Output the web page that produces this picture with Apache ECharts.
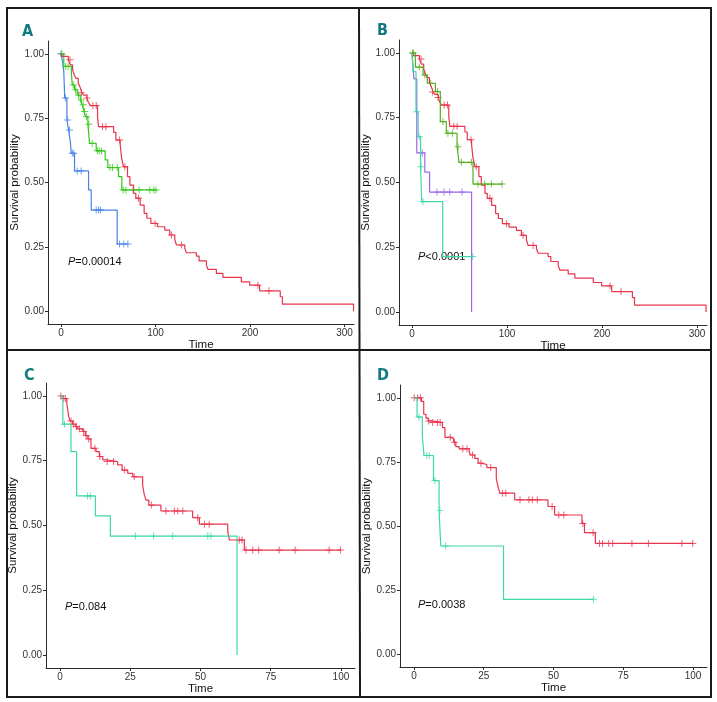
<!DOCTYPE html>
<html>
<head>
<meta charset="utf-8">
<script src="https://cdn.jsdelivr.net/npm/echarts@6/dist/echarts.min.js"></script>
<style>html,body{margin:0;padding:0;background:#fff}#c{width:717px;height:702px}</style>
</head>
<body>
<div id="c"></div>
<script>
// ---------- DATA ----------
const yTicks = [0, 0.25, 0.5, 0.75, 1];
const xTicksAB = [0, 100, 200, 300];
const xTicksCD = [0, 25, 50, 75, 100];
const panelLetters = ['A', 'B', 'C', 'D'];
const pTexts = ['0.00014', '<0.0001', '0.084', '0.0038'];

// Panel A & B: red stratum (same cohort)
const redABT = [0, 1.5, 7.8, 9.9, 12.3, 14.1, 15.8, 18.3, 20.4, 22.2, 24, 27.5, 29, 31.1, 38.7, 39.8, 55.7, 58.1, 62.7, 64.1, 66.2, 70.4, 72.9, 76.8, 79.2, 83.8, 88, 90.9, 95.1, 102.1, 109.9, 115.1, 120.4, 122.2, 131, 132.8, 143.3, 146.1, 153.9, 155.6, 164.4, 171.4, 190.8, 199.6, 210.2, 232, 234.2, 309.5];
const redABS = [1, 0.99, 0.977, 0.957, 0.938, 0.918, 0.905, 0.886, 0.869, 0.849, 0.840, 0.828, 0.812, 0.799, 0.756, 0.717, 0.695, 0.665, 0.646, 0.597, 0.561, 0.523, 0.490, 0.458, 0.439, 0.412, 0.380, 0.361, 0.341, 0.328, 0.315, 0.296, 0.279, 0.257, 0.244, 0.227, 0.214, 0.195, 0.179, 0.162, 0.147, 0.131, 0.114, 0.101, 0.079, 0.056, 0.027, 0];
const redABCensT = [9.5, 21.5, 27.5, 33.8, 37.3, 44, 47.5, 62, 67.6, 82, 99.6, 116.9, 127.5, 208.4, 220];
const redABCensS = [0.977, 0.849, 0.828, 0.799, 0.799, 0.717, 0.717, 0.665, 0.561, 0.439, 0.341, 0.296, 0.257, 0.101, 0.079];

// Panel A: blue
const blueAT = [0, 2, 3, 4, 6.3, 8.1, 9.9, 10.9, 14.4, 29.2, 32, 59.5, 71];
const blueAS = [1, 0.964, 0.931, 0.828, 0.743, 0.704, 0.659, 0.614, 0.545, 0.471, 0.393, 0.261, 0.261];
const blueACensT = [0, 4.8, 7, 9, 12, 13.5, 17.2, 21.4, 37.3, 39.8, 41.9, 62, 66.5, 70.8];
const blueACensS = [1, 0.828, 0.743, 0.704, 0.614, 0.614, 0.545, 0.545, 0.393, 0.393, 0.393, 0.261, 0.261, 0.261];

// Panel A: green
const greenAT = [0, 3, 11, 12, 14.4, 17.2, 20.4, 22.5, 24.3, 26.1, 28.5, 30.3, 37.3, 46.8, 49.6, 60.9, 64.4, 100.5];
const greenAS = [1, 0.951, 0.927, 0.879, 0.860, 0.840, 0.821, 0.802, 0.776, 0.756, 0.726, 0.652, 0.623, 0.588, 0.558, 0.523, 0.471, 0.471];
const greenACensT = [1, 5, 7.5, 13, 15.5, 18.5, 21.5, 23.5, 25, 27, 29.5, 33, 38.5, 40.5, 43, 51.8, 54.6, 59.5, 65.8, 68.7, 76.4, 82.7, 94, 98.2, 100.5];
const greenACensS = [1, 0.951, 0.951, 0.879, 0.860, 0.840, 0.821, 0.802, 0.776, 0.756, 0.726, 0.652, 0.623, 0.623, 0.623, 0.558, 0.558, 0.558, 0.471, 0.471, 0.471, 0.471, 0.471, 0.471, 0.471];

// Panel B: green
const greenBT = [0, 3.5, 11.6, 16.1, 24.6, 29.8, 36.1, 47.4, 49.5, 64.2, 95];
const greenBS = [1, 0.945, 0.915, 0.883, 0.851, 0.735, 0.690, 0.638, 0.578, 0.494, 0.494];
const greenBCensT = [0.5, 1.5, 7.6, 13.5, 19.6, 26.7, 32.6, 37.8, 42.5, 48.4, 51.9, 62.5, 69.5, 76.5, 83.5, 94.7];
const greenBCensS = [1, 1, 0.945, 0.915, 0.883, 0.851, 0.735, 0.690, 0.690, 0.638, 0.578, 0.578, 0.494, 0.494, 0.494, 0.494];

// Panel B: purple
const purpleBT = [0, 2, 5, 13.5, 18.5, 62.7];
const purpleBS = [1, 0.9, 0.614, 0.54, 0.463, 0];
const purpleBCensT = [10.9, 26.3, 33.7, 39.7, 52.6];
const purpleBCensS = [0.614, 0.463, 0.463, 0.463, 0.463];

// Panel B: cyan
const cyanBT = [0, 1, 4.2, 6.5, 9, 10.2, 32.3, 64];
const cyanBS = [1, 0.928, 0.773, 0.677, 0.561, 0.426, 0.214, 0.214];
const cyanBCensT = [5, 7.5, 9.5, 11.5, 64];
const cyanBCensS = [0.773, 0.677, 0.561, 0.426, 0.214];

// Panel C: red
const redCT = [0, 1, 2.4, 3.1, 3.6, 4.5, 5.5, 6.3, 8.1, 9, 9.9, 11, 12.8, 14, 15.2, 16.4, 20.5, 22.1, 24.1, 25.9, 29.4, 30, 30.6, 31.6, 35.9, 47.2, 49.6, 59.7, 60.3, 65.6, 100];
const redCS = [1, 0.99, 0.972, 0.920, 0.903, 0.891, 0.882, 0.873, 0.863, 0.847, 0.834, 0.798, 0.785, 0.766, 0.753, 0.747, 0.734, 0.714, 0.701, 0.688, 0.656, 0.618, 0.598, 0.579, 0.556, 0.530, 0.505, 0.476, 0.444, 0.405, 0.405];
const redCCensT = [0.3, 1.3, 1.9, 3.9, 4.7, 5.8, 6.9, 8.4, 9.3, 10.2, 12.4, 14.2, 16.8, 19, 23, 26.4, 32.5, 37.7, 40.7, 41.9, 43.7, 49, 51.4, 53.1, 63.8, 64.8, 66.2, 68.6, 70.7, 78, 83.7, 95.8, 99.8];
const redCCensS = [1, 0.99, 0.99, 0.903, 0.891, 0.882, 0.873, 0.863, 0.847, 0.834, 0.798, 0.766, 0.747, 0.747, 0.714, 0.688, 0.579, 0.556, 0.556, 0.556, 0.556, 0.530, 0.505, 0.505, 0.444, 0.444, 0.405, 0.405, 0.405, 0.405, 0.405, 0.405, 0.405];

// Panel C: cyan
const cyanCT = [0, 1, 3.9, 5.9, 12.6, 17.9, 63];
const cyanCS = [1, 0.891, 0.785, 0.614, 0.537, 0.459, 0];
const cyanCCensT = [1.6, 9.8, 10.8, 26.8, 33.3, 40.1, 52.6, 53.7];
const cyanCCensS = [0.891, 0.614, 0.614, 0.459, 0.459, 0.459, 0.459, 0.459];

// Panel D: red
const redDT = [0, 2.7, 3.5, 4.3, 5.1, 6.1, 10.2, 11.1, 13.2, 14.2, 15, 16.2, 19.8, 20.4, 21.8, 23, 24.2, 26.1, 29.5, 30.1, 30.8, 36.1, 48, 50.4, 60.2, 61.1, 65, 100];
const redDS = [1, 0.986, 0.936, 0.921, 0.910, 0.904, 0.884, 0.846, 0.840, 0.827, 0.810, 0.801, 0.786, 0.777, 0.764, 0.745, 0.740, 0.728, 0.686, 0.654, 0.628, 0.602, 0.576, 0.543, 0.510, 0.474, 0.432, 0.432];
const redDCensT = [0.1, 1.3, 2.3, 5.3, 6.7, 8.5, 9.4, 13, 14.5, 17.5, 19, 21, 24, 27.5, 31.7, 32.9, 38, 41.2, 42.4, 44.2, 49.5, 51.9, 53.7, 60.5, 64.2, 66.5, 67.6, 69.8, 71.2, 78.1, 84, 96, 99.9];
const redDCensS = [1, 1, 1, 0.910, 0.904, 0.904, 0.904, 0.846, 0.827, 0.801, 0.801, 0.777, 0.745, 0.728, 0.628, 0.628, 0.602, 0.602, 0.602, 0.602, 0.576, 0.543, 0.543, 0.510, 0.474, 0.432, 0.432, 0.432, 0.432, 0.432, 0.432, 0.432, 0.432];

// Panel D: cyan
const cyanDT = [0, 1.1, 3.0, 3.6, 7, 9.0, 9.6, 32.1, 64.3];
const cyanDS = [1, 0.925, 0.853, 0.775, 0.677, 0.560, 0.422, 0.214, 0.214];
const cyanDCensT = [1.8, 4.6, 5.5, 7.5, 9.3, 11.3, 64.3];
const cyanDCensS = [0.925, 0.775, 0.775, 0.677, 0.560, 0.422, 0.214];

// ---------- STYLE ----------
const COL = {
  red: '#E8344D', blue: '#4A82E8', green: '#34C81A', greenB: '#55AE1E',
  purple: '#9A66EE', cyan: '#3ED8A6'
};
const CROSS = 'path://M0,4.3H10V5.7H0ZM4.3,0H5.7V10H4.3Z';
const FONT = '"Liberation Sans", Arial, sans-serif';

function pairs(t, s) { return t.map((v, i) => [v, s[i]]); }

const grids = [
  { left: 48, top: 41, width: 306, height: 283 },
  { left: 399, top: 40, width: 308, height: 285 },
  { left: 46, top: 383, width: 309, height: 285 },
  { left: 400, top: 385, width: 307, height: 282 }
];
const xRanges = [[-13.7, 310], [-13.7, 310.5], [-5, 105], [-5, 105]];
const xTickSets = [xTicksAB, xTicksAB, xTicksCD, xTicksCD];

const xAxes = grids.map((g, i) => ({
  type: 'value', gridIndex: i, min: xRanges[i][0], max: xRanges[i][1],
  axisLine: { show: true, onZero: false, lineStyle: { color: '#2b2b2b', width: 1 } },
  axisTick: { show: true, length: 3, customValues: xTickSets[i], lineStyle: { color: '#2b2b2b' } },
  axisLabel: { customValues: xTickSets[i], color: '#333', fontSize: 10, margin: 4, fontFamily: FONT },
  splitLine: { show: false },
  name: 'Time', nameLocation: 'middle', nameGap: 15,
  nameTextStyle: { fontSize: 11.5, color: '#111', fontFamily: FONT }
}));
const yAxes = grids.map((g, i) => ({
  type: 'value', gridIndex: i, min: -0.05, max: 1.05,
  axisLine: { show: true, onZero: false, lineStyle: { color: '#2b2b2b', width: 1 } },
  axisTick: { show: true, length: 3, customValues: yTicks, lineStyle: { color: '#2b2b2b' } },
  axisLabel: { customValues: yTicks, color: '#333', fontSize: 10, margin: 4, fontFamily: FONT,
    formatter: v => v.toFixed(2) },
  splitLine: { show: false },
  name: 'Survival probability', nameLocation: 'middle', nameGap: 26, nameRotate: 90,
  nameTextStyle: { fontSize: 11.5, color: '#111', fontFamily: FONT }
}));

const series = [];
function addCurve(panel, t, s, ct, cs, color) {
  series.push({
    type: 'line', step: 'end', xAxisIndex: panel, yAxisIndex: panel,
    data: pairs(t, s), showSymbol: false, symbol: 'none',
    lineStyle: { color: color, width: 1.2 }, animation: false, silent: true
  });
  series.push({
    type: 'scatter', xAxisIndex: panel, yAxisIndex: panel,
    data: pairs(ct, cs), symbol: CROSS, symbolSize: 7,
    itemStyle: { color: color }, animation: false, silent: true
  });
}
addCurve(0, blueAT, blueAS, blueACensT, blueACensS, COL.blue);
addCurve(0, greenAT, greenAS, greenACensT, greenACensS, COL.green);
addCurve(0, redABT, redABS, redABCensT, redABCensS, COL.red);
addCurve(1, redABT, redABS, redABCensT, redABCensS, COL.red);
addCurve(1, greenBT, greenBS, greenBCensT, greenBCensS, COL.greenB);
addCurve(1, purpleBT, purpleBS, purpleBCensT, purpleBCensS, COL.purple);
addCurve(1, cyanBT, cyanBS, cyanBCensT, cyanBCensS, COL.cyan);
addCurve(2, redCT, redCS, redCCensT, redCCensS, COL.red);
addCurve(2, cyanCT, cyanCS, cyanCCensT, cyanCCensS, COL.cyan);
addCurve(3, redDT, redDS, redDCensT, redDCensS, COL.red);
addCurve(3, cyanDT, cyanDS, cyanDCensT, cyanDCensS, COL.cyan);

// annotations / frame
const letterPos = [[22, 32], [377, 31], [24, 376], [377, 376]];
const pPos = [[68, 262], [418, 257], [65, 607], [418, 605]];
const graphic = [
  { type: 'rect', shape: { x: 7, y: 8, width: 704, height: 689 }, style: { fill: 'none', stroke: '#1a1a1a', lineWidth: 2 }, silent: true },
  { type: 'line', shape: { x1: 359, y1: 8, x2: 360, y2: 697 }, style: { stroke: '#1a1a1a', lineWidth: 2 }, silent: true },
  { type: 'line', shape: { x1: 7, y1: 350, x2: 711, y2: 350 }, style: { stroke: '#1a1a1a', lineWidth: 2 }, silent: true }
];
panelLetters.forEach((L, i) => {
  graphic.push({ type: 'text', x: letterPos[i][0], y: letterPos[i][1], silent: true,
    style: { text: L, fill: '#127A80', font: 'bold 16px "DejaVu Sans Condensed", "Liberation Sans Narrow", sans-serif', verticalAlign: 'middle', align: 'left' } });
});
pTexts.forEach((p, i) => {
  graphic.push({ type: 'text', x: pPos[i][0], y: pPos[i][1], silent: true,
    style: { text: '{i|P}' + (p.startsWith('<') ? p : '=' + p), verticalAlign: 'middle', align: 'left',
      fontSize: 11, fontFamily: FONT, fill: '#111',
      rich: { i: { fontStyle: 'italic', fontSize: 11, fontFamily: FONT, fill: '#111' } } } });
});

const chart = echarts.init(document.getElementById('c'), null, { renderer: 'canvas' });
chart.setOption({
  animation: false,
  backgroundColor: '#fff',
  grid: grids,
  xAxis: xAxes,
  yAxis: yAxes,
  series: series,
  graphic: graphic
});
</script>
</body>
</html>
